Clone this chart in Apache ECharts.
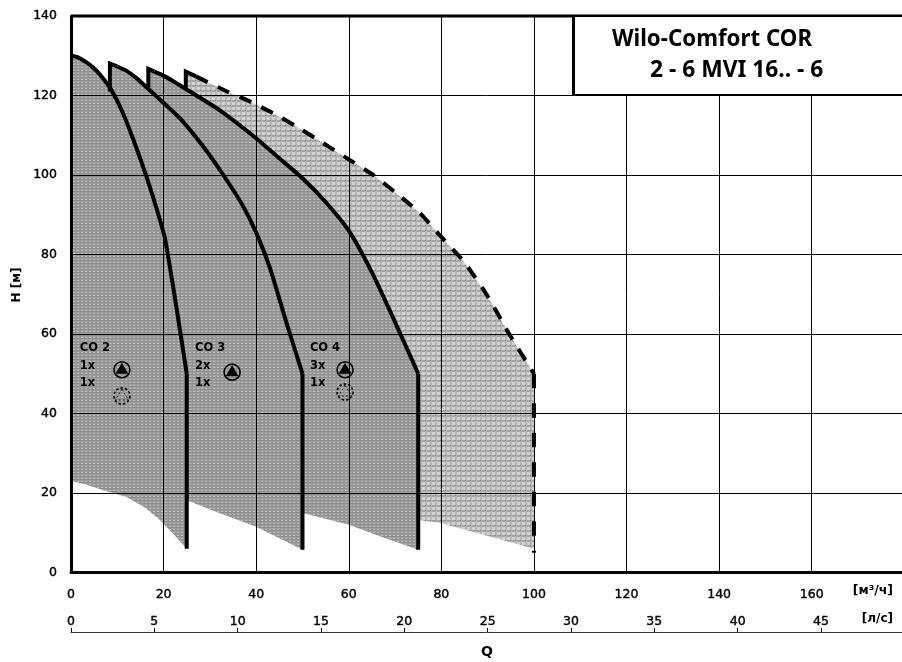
<!DOCTYPE html>
<html><head><meta charset="utf-8">
<style>html,body{margin:0;padding:0;background:#fff}#c{width:902px;height:662px}</style>
<script src="https://cdn.jsdelivr.net/npm/echarts@6/dist/echarts.min.js"></script>
</head><body><div id="c"></div>
<script>
const flowTicksMax = 179.5;
const curveCO2 = [[0,130],[1.5,129.6],[3.5,128.2],[5,126.8],[6.3,125.2],[8.6,121.6],[10.9,116.4],[13.5,108.8],[16.3,99.6],[18.5,91.5],[20.3,84],[22.8,66.5],[25,50]];
const dropCO2 = [[25,50],[25,6]];
const notchCO3 = [[8.4,121],[8.4,128],[10,127.3]];
const curveCO3 = [[10,127.3],[12,126.2],[14,124.5],[16.4,122],[17.8,120.5],[23.5,114.3],[28.6,107.1],[32.9,100],[37,92.5],[40,85.5],[43,76.5],[46.5,63],[50,50]];
const dropCO3 = [[50,50],[50,5.7]];
const notchCO4 = [[16.7,122],[16.7,126.7],[18,126]];
const curveCO4 = [[18,126],[20,125],[22.5,123.3],[25.7,121],[32,116.4],[39.4,109.8],[45,104.2],[50,99.2],[55,93.2],[60,86],[65,75.5],[70,63],[75,50]];
const dropCO4 = [[75,50],[75,5.7]];
const notchMax = [[24.8,121.5],[24.8,126],[27,124.8]];
const curveMax = [[27,124.8],[33.7,121],[37.9,118.9],[43.7,115.5],[48.7,112.2],[54.5,108],[59.9,104],[65.3,100],[70.3,95.4],[75.4,90.4],[79.3,85.3],[85,78],[90,69.5],[94.4,60.5],[100,50]];
const dropMax = [[100,50],[100,5]];
const lowerCO4 = [[75,5.7],[67,9],[60,12],[50,15]];
const lowerCO3 = [[50,5.7],[40,11.5],[32,15],[25,18.2]];
const lowerCO2 = [[25,6],[22,9.8],[19.2,13.2],[16,16.3],[12,19],[7,20.7],[3,22.2],[0,23]];
const lowerMax = [[100,6],[90,9.2],[80,12.4],[75,13.2]];
const yTitle = 'H [м]';
const unitQ1 = '[м³/ч]';
const unitQ2 = '[л/с]';
const titleLines = ['Wilo-Comfort COR','2 - 6 MVI 16.. - 6'];
const groupNames = ['CO 2','CO 3','CO 4'];
const groupQ = [1.9,26.8,51.6];
const groupCounts = [['1x','1x'],['2x','1x'],['3x','1x']];
const pumpsSolid = [[11,51],[34.8,50.4],[59.2,51]];
const pumpsDashed = [[11,44.4],[59.2,45.4]];

function tile(w,h,bg,draw){
  const c=document.createElement('canvas');c.width=w;c.height=h;
  const g=c.getContext('2d');g.fillStyle=bg;g.fillRect(0,0,w,h);draw(g);return c;
}
const darkTile = tile(4,3,'#8e8e8e',g=>{g.fillStyle='#bdbdbd';g.fillRect(1,1,2,1);g.fillStyle='#9e9e9e';g.fillRect(0,0,4,1);g.fillStyle='#9e9e9e';g.fillRect(3,1,1,1);});
const lightTile = tile(5,5,'#d2d2d2',g=>{g.fillStyle='#a4a4a4';g.fillRect(0,0,5,2);g.fillStyle='#b6b6b6';g.fillRect(0,0,2,5);g.fillStyle='#808080';g.fillRect(0,0,1,1);});

const darkPoly = curveCO2.slice(0,6).concat(notchCO3,curveCO3.slice(1,4),notchCO4,curveCO4.slice(1),lowerCO4,lowerCO3,lowerCO2);
const lightPoly = notchMax.concat(curveMax.slice(1),lowerMax);

function polySeries(pts,img,z){
  return {type:'custom',coordinateSystem:'cartesian2d',xAxisIndex:0,yAxisIndex:0,z:z,silent:true,clip:false,
    data:[0],encode:{x:[],y:[]},
    renderItem:(p,api)=>({type:'polygon',shape:{points:pts.map(q=>api.coord(q))},style:{fill:{image:img,repeat:'repeat'},stroke:null}})};
}
function lineSeries(pts,o){
  o=o||{};
  return {type:'line',data:pts,showSymbol:false,symbol:'none',z:6,silent:true,clip:false,smooth:o.smooth||false,
    lineStyle:{color:'#000',width:4,type:o.dash||'solid',join:'miter',cap:'butt'}};
}
function pump(x,y,dashed){
  const r=8;
  return {type:'group',children:[
    {type:'circle',shape:{cx:x,cy:y,r:r},style:{fill:'none',stroke:'#000',lineWidth:1.6,lineDash:dashed?[2.5,2]:null}},
    {type:'polygon',shape:{points:[[x,y-7],[x-6.5,y+4],[x+6.5,y+4]]},
      style:dashed?{fill:'none',stroke:'#000',lineWidth:0.9,lineDash:[2,2]}:{fill:'#000'}}
  ]};
}
const annotSeries = {type:'custom',coordinateSystem:'cartesian2d',z:7,silent:true,data:[0],encode:{x:[],y:[]},
  renderItem:(p,api)=>{
    const ch=[];
    pumpsSolid.forEach(q=>{const c=api.coord(q);ch.push(pump(c[0],c[1],false));});
    pumpsDashed.forEach(q=>{const c=api.coord(q);ch.push(pump(c[0],c[1],true));});
    groupNames.forEach((n,i)=>{
      const f=(t,h)=>{const c=api.coord([groupQ[i],h]);ch.push({type:'text',style:{text:t,x:c[0],y:c[1],fill:'#000',font:'bold 11.5px "DejaVu Sans"',textAlign:'left',textVerticalAlign:'middle'}});};
      f(n,56.5);f(groupCounts[i][0],52);f(groupCounts[i][1],47.7);
    });
    return {type:'group',children:ch};
  }};

const labelFont={color:'#000',fontFamily:'"DejaVu Sans"',fontSize:12.5,fontWeight:'normal',textBorderColor:'#000',textBorderWidth:0.4};
const S=0.2;
const chart=echarts.init(document.getElementById('c'),null,{renderer:'canvas'});
chart.setOption({
  animation:false,
  grid:{left:71,right:0,top:16,bottom:89.5,containLabel:false},
  xAxis:[
    {type:'value',min:0,max:flowTicksMax,interval:20,z:4,position:'bottom',
     axisLine:{show:true,onZero:false,lineStyle:{color:'#000',width:3}},axisTick:{show:false},
     splitLine:{show:true,showMinLine:false,showMaxLine:false,lineStyle:{color:'#000',width:1}},
     axisLabel:Object.assign({margin:16,showMaxLabel:false,showMinLabel:true},labelFont)},
    {type:'value',min:0,max:flowTicksMax/3.6,interval:5,position:'bottom',offset:59.5,
     axisLine:{show:true,onZero:false,lineStyle:{color:'#333',width:1}},
     axisTick:{show:true,inside:true,length:4,lineStyle:{color:'#000',width:1}},splitLine:{show:false},
     axisLabel:Object.assign({inside:true,margin:4,showMaxLabel:false,showMinLabel:true},labelFont)}
  ],
  yAxis:[{type:'value',min:0,max:140,interval:20,z:4,
     axisLine:{show:true,onZero:false,lineStyle:{color:'#000',width:3}},axisTick:{show:false},
     splitLine:{show:true,showMinLine:false,lineStyle:{color:'#000',width:1}},
     axisLabel:Object.assign({margin:14},labelFont)}],
  series:[
    polySeries(lightPoly,lightTile,1),
    polySeries(darkPoly,darkTile,2),
    lineSeries(curveCO2,{smooth:S}),lineSeries(dropCO2),
    lineSeries(notchCO3),lineSeries(curveCO3,{smooth:S}),lineSeries(dropCO3),
    lineSeries(notchCO4),lineSeries(curveCO4,{smooth:S}),lineSeries(dropCO4),
    lineSeries(notchMax),lineSeries(curveMax,{smooth:S,dash:[13,11]}),lineSeries(dropMax,{dash:[14.5,15]}),
    annotSeries
  ],
  graphic:{elements:[
    {type:'rect',z:20,shape:{x:71,y:16,width:831,height:0},style:{stroke:'#000',lineWidth:3}},
    {type:'rect',z:20,shape:{x:573.5,y:16,width:340,height:79},style:{fill:'#fff',stroke:'#000',lineWidth:2}},
    {type:'rect',z:20,shape:{x:573.5,y:16,width:0,height:79},style:{stroke:'#000',lineWidth:3}},
    {type:'text',z:21,style:{text:titleLines[0],x:612,y:40,fill:'#000',font:'bold 22.3px "Noto Sans"',textVerticalAlign:'middle'}},
    {type:'text',z:21,style:{text:titleLines[1],x:650,y:71,fill:'#000',font:'bold 22.8px "Noto Sans"',textVerticalAlign:'middle'}},
    {type:'text',z:21,rotation:Math.PI/2,x:17,y:285,style:{text:yTitle,x:0,y:0,fill:'#000',font:'bold 12px "DejaVu Sans"',textAlign:'center',textVerticalAlign:'middle'}},
    {type:'text',z:21,style:{text:'Q',x:487,y:652,fill:'#000',font:'bold 14px "DejaVu Sans"',textAlign:'center',textVerticalAlign:'middle'}},
    {type:'text',z:21,style:{text:unitQ1,x:893,y:591,fill:'#000',font:'bold 12.5px "DejaVu Sans"',textAlign:'right',textVerticalAlign:'middle'}},
    {type:'text',z:21,style:{text:unitQ2,x:893,y:619,fill:'#000',font:'bold 12px "DejaVu Sans"',textAlign:'right',textVerticalAlign:'middle'}}
  ]}
});
</script></body></html>
